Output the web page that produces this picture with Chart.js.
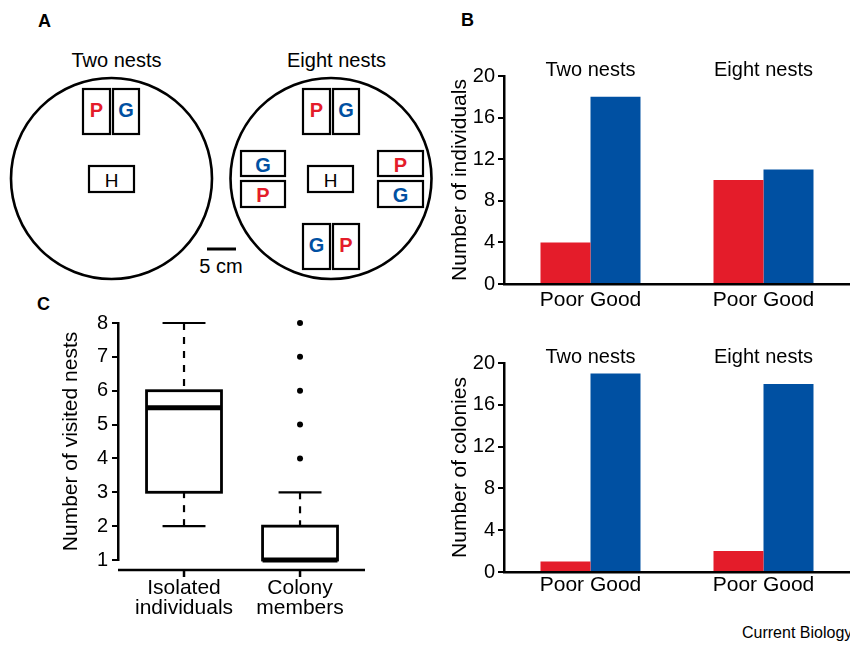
<!DOCTYPE html>
<html>
<head>
<meta charset="utf-8">
<script src="https://cdn.jsdelivr.net/npm/chart.js@4.4.0/dist/chart.umd.min.js"></script>
<style>
  html, body { margin: 0; padding: 0; overflow: hidden; background: #fff; }
  body { position: relative; width: 850px; height: 646px; font-family: "Liberation Sans", Arial, sans-serif; }
  canvas, svg { position: absolute; }
  #credit { position: absolute; left: 742px; top: 625px; font-size: 16px; line-height: 16px; white-space: nowrap; }
</style>
</head>
<body>
<!-- panel A schematic + panel letters -->
<svg width="850" height="646" style="left:0;top:0" font-family="Liberation Sans, Arial, sans-serif">
  <text x="38" y="27" font-size="18" font-weight="bold">A</text>
  <text x="461" y="26" font-size="18" font-weight="bold">B</text>
  <text x="37" y="310" font-size="18" font-weight="bold">C</text>

  <text x="116.5" y="67" font-size="20" text-anchor="middle">Two nests</text>
  <text x="336.5" y="67" font-size="20" text-anchor="middle">Eight nests</text>

  <g fill="none" stroke="#000">
    <circle cx="111.5" cy="178.5" r="100.5" stroke-width="2.6"/>
    <circle cx="331" cy="178.5" r="100.5" stroke-width="2.6"/>
    <g stroke-width="2.2">
      <rect x="83" y="89" width="27" height="45"/>
      <rect x="113" y="89" width="26" height="45"/>
      <rect x="89" y="166" width="45" height="26"/>
      <rect x="303" y="89" width="27" height="45"/>
      <rect x="333" y="89" width="26" height="45"/>
      <rect x="241" y="151" width="44" height="25"/>
      <rect x="241" y="181" width="44" height="26"/>
      <rect x="308" y="166" width="45" height="26"/>
      <rect x="378" y="151" width="45" height="25"/>
      <rect x="378" y="181" width="45" height="26"/>
      <rect x="303" y="224" width="27" height="45"/>
      <rect x="333" y="224" width="26" height="45"/>
    </g>
    <line x1="207" y1="249" x2="236" y2="249" stroke-width="3"/>
  </g>
  <g font-size="20" font-weight="bold" text-anchor="middle">
    <text x="96.5" y="117" fill="#e41c2a">P</text>
    <text x="126" y="117" fill="#0050a2">G</text>
    <text x="316.5" y="117" fill="#e41c2a">P</text>
    <text x="346" y="117" fill="#0050a2">G</text>
    <text x="263" y="172" fill="#0050a2">G</text>
    <text x="263" y="201.5" fill="#e41c2a">P</text>
    <text x="400.5" y="172" fill="#e41c2a">P</text>
    <text x="400.5" y="201.5" fill="#0050a2">G</text>
    <text x="316.5" y="252" fill="#0050a2">G</text>
    <text x="346" y="252" fill="#e41c2a">P</text>
  </g>
  <g font-size="19" text-anchor="middle">
    <text x="111.5" y="187">H</text>
    <text x="330.5" y="187">H</text>
  </g>
  <text x="221" y="273" font-size="20" text-anchor="middle">5 cm</text>
</svg>

<canvas id="individuals" width="410" height="280" style="left:440px;top:40px"></canvas>
<canvas id="colonies" width="410" height="280" style="left:440px;top:327px"></canvas>
<canvas id="visited" width="440" height="356" style="left:0px;top:290px"></canvas>
<div id="credit">Current Biology</div>

<script>
const nestGroups = ["Two nests", "Eight nests"];
const nestQuality = ["Poor", "Good"];
const individualsPoor = [4, 10];
const individualsGood = [18, 11];
const coloniesPoor = [1, 2];
const coloniesGood = [19, 18];
const countMax = 20;
const countStep = 4;

const boxGroups = [["Isolated", "individuals"], ["Colony", "members"]];
const visitedMin = [2, 1];
const visitedQ1 = [3, 1];
const visitedMedian = [5.5, 1];
const visitedQ3 = [6, 2];
const visitedMax = [8, 3];
const visitedOutliers = [[], [4, 5, 6, 7, 8]];
const visitedTicks = [1, 2, 3, 4, 5, 6, 7, 8];

const red = "#e41c2a";
const blue = "#0050a2";
const fontFamily = "'Liberation Sans', Arial, sans-serif";

Chart.defaults.font.family = fontFamily;
Chart.defaults.color = "#000";
Chart.defaults.animation = false;
Chart.defaults.plugins.legend.display = false;
Chart.defaults.plugins.tooltip.enabled = false;

// "Two nests" / "Eight nests" headers sitting on top of the plot area
const groupHeaderPlugin = {
  id: "groupHeader",
  afterDraw(chart) {
    const { ctx, chartArea, scales: { x } } = chart;
    ctx.save();
    ctx.font = "20px " + fontFamily;
    ctx.fillStyle = "#000";
    ctx.textAlign = "center";
    ctx.textBaseline = "alphabetic";
    nestGroups.forEach((g, i) => ctx.fillText(g, x.getPixelForValue(i), chartArea.top));
    ctx.restore();
  },
};

function barConfig(poor, good, yTitle, bottomAxis, labelPad) {
  return {
    type: "bar",
    data: {
      labels: nestGroups,
      datasets: [
        { label: nestQuality[0], data: poor, backgroundColor: red, borderWidth: 0, categoryPercentage: 0.578, barPercentage: 1 },
        { label: nestQuality[1], data: good, backgroundColor: blue, borderWidth: 0, categoryPercentage: 0.578, barPercentage: 1 },
      ],
    },
    options: {
      responsive: false,
      layout: { padding: { top: 36, left: 0, right: 0, bottom: 0 } },
      scales: {
        x: {
          position: "bottom",
          grid: { display: false, drawTicks: false },
          border: { color: "#000", width: 2.5 },
          ticks: { font: { size: 21 }, padding: labelPad, callback: () => nestQuality.join(" ") },
          afterFit: (s) => { s.height = bottomAxis; },
        },
        y: {
          min: 0,
          max: countMax,
          ticks: { stepSize: countStep, font: { size: 20 }, padding: 3 },
          grid: { drawOnChartArea: false, color: "#000", lineWidth: 2, tickLength: 6 },
          border: { color: "#000", width: 2.5 },
          title: { display: true, text: yTitle, font: { size: 21 }, padding: { top: 8, bottom: 0 } },
          afterFit: (s) => { s.width = 64; },
        },
      },
    },
    plugins: [groupHeaderPlugin],
  };
}

new Chart(document.getElementById("individuals"), barConfig(individualsPoor, individualsGood, "Number of individuals", 36, 4));
new Chart(document.getElementById("colonies"), barConfig(coloniesPoor, coloniesGood, "Number of colonies", 35, 1));

// box plot drawn through the chart's own scales
const boxPlotPlugin = {
  id: "boxPlot",
  afterDatasetsDraw(chart) {
    const { ctx, chartArea, scales: { x, y } } = chart;
    const unit = x.getPixelForValue(2) - x.getPixelForValue(1);
    const seg = (x1, y1, x2, y2) => { ctx.beginPath(); ctx.moveTo(x1, y1); ctx.lineTo(x2, y2); ctx.stroke(); };
    ctx.save();
    ctx.strokeStyle = "#000";
    boxGroups.forEach((g, i) => {
      const cx = x.getPixelForValue(i + 1);
      const half = unit * 0.323;
      const cap = unit * 0.185;
      const yMin = y.getPixelForValue(visitedMin[i]);
      const yQ1 = y.getPixelForValue(visitedQ1[i]);
      const yMed = y.getPixelForValue(visitedMedian[i]);
      const yQ3 = y.getPixelForValue(visitedQ3[i]);
      const yMax = y.getPixelForValue(visitedMax[i]);
      ctx.lineWidth = 2.2;
      ctx.setLineDash([7, 7]);
      seg(cx, yMax, cx, yQ3);
      if (visitedMin[i] < visitedQ1[i]) seg(cx, yMin, cx, yQ1);
      ctx.setLineDash([]);
      seg(cx - cap, yMax, cx + cap, yMax);
      if (visitedMin[i] < visitedQ1[i]) seg(cx - cap, yMin, cx + cap, yMin);
      ctx.lineWidth = 2.8;
      ctx.strokeRect(cx - half, yQ3, 2 * half, yQ1 - yQ3);
      ctx.lineWidth = 5;
      seg(cx - half, yMed, cx + half, yMed);
    });
    // detached x axis, R style
    const ay = chartArea.bottom + 10;
    ctx.lineWidth = 2.5;
    seg(chartArea.left, ay, chartArea.right, ay);
    x.ticks.forEach((t) => {
      const px = x.getPixelForValue(t.value);
      seg(px, ay, px, ay + 7);
    });
    ctx.restore();
  },
};

new Chart(document.getElementById("visited"), {
  type: "scatter",
  data: {
    datasets: [{
      data: visitedOutliers.flatMap((vals, i) => vals.map((v) => ({ x: i + 1, y: v }))),
      pointRadius: 3,
      backgroundColor: "#000",
      borderWidth: 0,
      clip: false,
    }],
  },
  options: {
    responsive: false,
    layout: { padding: { top: 33, right: 75, left: 0, bottom: 0 } },
    scales: {
      x: {
        type: "linear",
        min: 0.431,
        max: 2.56,
        afterBuildTicks: (s) => { s.ticks = boxGroups.map((g, i) => ({ value: i + 1 })); },
        ticks: { font: { size: 21, lineHeight: 0.92 }, padding: 19, callback: (v) => boxGroups[v - 1] },
        grid: { display: false, drawTicks: false },
        border: { display: false },
        afterFit: (s) => { s.height = 86; },
      },
      y: {
        min: 1,
        max: 8,
        afterBuildTicks: (s) => { s.ticks = visitedTicks.map((v) => ({ value: v })); },
        ticks: { font: { size: 20 }, padding: 4 },
        grid: { drawOnChartArea: false, color: "#000", lineWidth: 2, tickLength: 6 },
        border: { color: "#000", width: 2.5 },
        title: { display: true, text: "Number of visited nests", font: { size: 21 }, padding: { top: 59, bottom: 0 } },
        afterFit: (s) => { s.width = 118; },
      },
    },
  },
  plugins: [boxPlotPlugin],
});
</script>
</body>
</html>
